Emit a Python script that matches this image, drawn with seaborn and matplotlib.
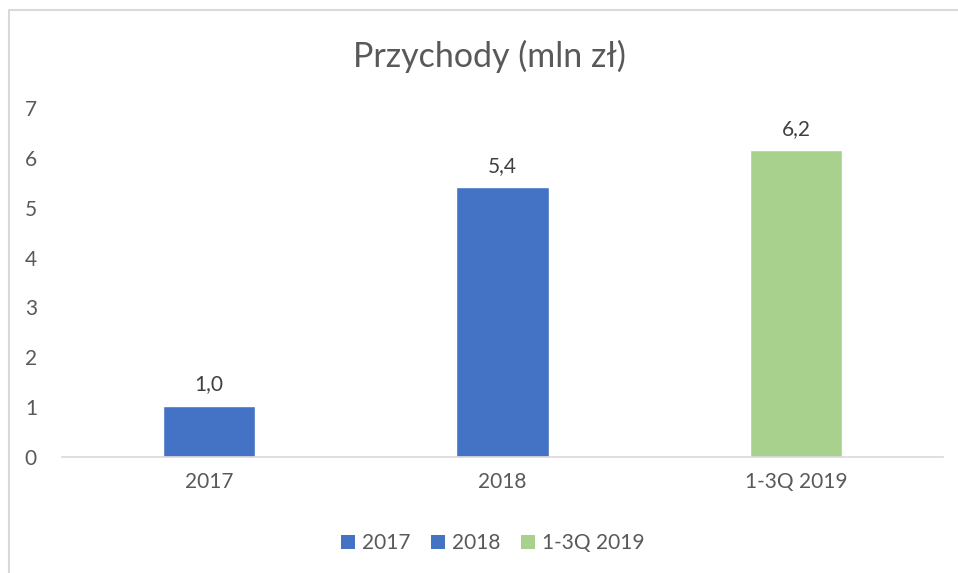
import numpy as np
import pandas as pd
import matplotlib.pyplot as plt
import seaborn as sns
from matplotlib.patches import Patch
from matplotlib.lines import Line2D

# Chart data
categories = ['2017', '2018', '1-3Q 2019']
revenue = [1.03, 5.42, 6.16]
value_labels = ['1,0', '5,4', '6,2']
bar_colors = ['#4472C4', '#4472C4', '#A9D18E']

df = pd.DataFrame({'Okres': categories, 'Przychody': revenue})

sns.set_style('white')
plt.rcParams['font.family'] = ['Lato', 'DejaVu Sans']
text_color = '#595959'

fig = plt.figure(figsize=(9.58, 5.73), dpi=100)
ax = fig.add_axes([62 / 958, 116 / 573, 881 / 958, 349 / 573])

sns.barplot(data=df, x='Okres', y='Przychody', hue='Okres', palette=bar_colors,
            width=0.315, dodge=False, legend=False, saturation=1, ax=ax)

for container, lab in zip(ax.containers, value_labels):
    ax.bar_label(container, labels=[lab], padding=8, fontsize=15, color='#404040')

ax.set_ylim(0, 7)
ax.set_yticks(range(0, 8))
ax.set_xlabel('')
ax.set_ylabel('')
ax.tick_params(axis='both', length=0, labelsize=15, labelcolor=text_color)
ax.tick_params(axis='y', pad=18)
ax.tick_params(axis='x', pad=11)
for side in ['top', 'right', 'left']:
    ax.spines[side].set_visible(False)
ax.spines['bottom'].set_color('#D9D9D9')
ax.spines['bottom'].set_linewidth(1.2)

fig.text(489 / 958, 1 - 56 / 573, 'Przychody (mln zł)', ha='center', va='center',
         fontsize=24.5, color=text_color)

handles = [Patch(facecolor=c, edgecolor='none') for c in bar_colors]
fig.legend(handles, categories, loc='center', bbox_to_anchor=(493 / 958, 1 - 543 / 573),
           ncol=3, frameon=False, fontsize=15, labelcolor=text_color,
           handlelength=0.65, handleheight=0.65, handletextpad=0.35, columnspacing=1.0)

# chart area border: only the top and left edges are visible in the crop
fig.lines.append(Line2D([9 / 958, 9 / 958, 1], [0, 1 - 10 / 573, 1 - 10 / 573],
                        transform=fig.transFigure, color='#D9D9D9', linewidth=1.5))

fig.savefig('out.png', dpi=100)
